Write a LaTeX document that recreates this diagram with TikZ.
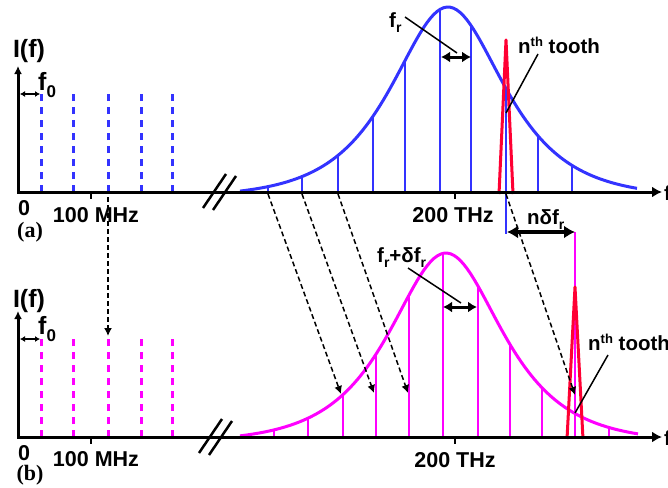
\documentclass[tikz,border=0pt]{standalone}
\usepackage{fontspec}
\setmainfont{Liberation Sans}
\newfontfamily\serifbf{Liberation Serif}
\usetikzlibrary{arrows.meta}
\definecolor{cblue}{RGB}{51,51,255}
\definecolor{cmag}{RGB}{255,0,255}
\definecolor{cred}{RGB}{255,0,51}
\newcommand{\dn}[1]{\raisebox{-5pt}{\fontsize{14}{14}\selectfont #1}}
\newcommand{\up}[1]{\raisebox{7pt}{\fontsize{13}{13}\selectfont #1}}
\newcommand{\dnbig}[1]{\raisebox{-7pt}{\fontsize{17}{17}\selectfont #1}}
\tikzset{
  axisline/.style={line width=3pt, line join=miter, {Latex[length=8pt,width=8pt]}-{Latex[length=10pt,width=11pt]}},
  breakmark/.style={line width=2.5pt},
  tickmark/.style={line width=2pt},
  lbl/.style={font=\fontsize{20.5}{20.5}\selectfont\bfseries, inner sep=0pt},
  axlbl/.style={font=\fontsize{21.5}{21.5}\selectfont\bfseries, inner sep=0pt},
  biglbl/.style={font=\fontsize{25}{25}\selectfont\bfseries, inner sep=0pt},
  panellbl/.style={font=\fontsize{22}{22}\selectfont\serifbf\bfseries, inner sep=0pt},
  combline/.style={line width=3pt, dash pattern=on 7pt off 6pt},
  tooth/.style={line width=2.5pt},
  envelope/.style={line width=3pt},
  spike/.style={cred, line width=3pt, line join=round},
  transfer/.style={line width=1.5pt, dash pattern=on 5pt off 3pt, -{Latex[length=8pt,width=8pt]}},
  leader/.style={line width=1.5pt},
  smalldbl/.style={line width=1.5pt, {Latex[length=5pt,width=6pt]}-{Latex[length=5pt,width=6pt]}},
  spacing/.style={line width=3pt, {Latex[length=9pt,width=11pt]}-{Latex[length=9pt,width=11pt]}},
  bigdbl/.style={line width=3.5pt, {Latex[length=11pt,width=13pt]}-{Latex[length=11pt,width=13pt]}}
}
\begin{document}
\begin{tikzpicture}[x=1pt,y=-1pt,
  declare function={sechf(\t)=2/(exp(\t)+exp(-\t));
    curvA(\x)=192-(190*sechf((\x-448)/50)-5);
    curvB(\x)=437-(189*sechf((\x-446)/50)-5);}]
\useasboundingbox (0,0) rectangle (668,487);

% ---------------- panel (a) ----------------
\foreach \xx in {41,73,108,141,172}
  \draw[combline, cblue] (\xx,192) -- (\xx,93);
\draw[envelope, cblue] plot[domain=240:637, samples=120] (\x, {curvA(\x)});
\foreach \xx in {268,302,338,373,405,440,471,538,572}
  \draw[tooth, cblue] (\xx,192) -- (\xx,{curvA(\xx)});
\draw[tooth, cblue] (506,{curvA(506)}) -- (506,234);
\draw[spike] (499,194) -- (506,40) -- (513,194);

\draw[axisline] (18,66) -- (18,192) -- (662,192);
\draw[breakmark] (203,208) -- (226,174);
\draw[breakmark] (213,210) -- (236,176);
\draw[tickmark] (91,192) -- (91,199);
\draw[tickmark] (455,192) -- (455,199);

\node[biglbl, anchor=base] (Ia) at (29,57) {I(f)};
\node[axlbl, anchor=base] (zeroa) at (24,215) {0};
\node[axlbl, anchor=base] (mhza) at (96,222) {100 MHz};
\node[axlbl, anchor=base] (thza) at (453,222) {200 THz};
\node[panellbl, anchor=base] (pa) at (30,237) {(a)};
\node[lbl, anchor=base west] (fa) at (664,200) {f};
\node[biglbl, anchor=base west] (f0a) at (38,90) {f\dnbig{0}};
\draw[smalldbl] (20,94) -- (40,94);
\node[lbl, anchor=base west] (fr) at (389,28) {f\dn{r}};
\coordinate (frl1) at (405,17);
\coordinate (frl2) at (457,53);
\draw[leader] (frl1) -- (frl2);
\draw[spacing] (441,57) -- (471,57);
\node[lbl, anchor=base west] (ntha) at (518,53) {n\up{th} tooth};
\coordinate (ntl1) at (538,54);
\coordinate (ntl2) at (506,113);
\draw[leader] (ntl1) -- (ntl2);

% ---------------- shift ----------------
\node[lbl, anchor=base west] (ndf) at (527,224) {nδf\dn{r}};
\coordinate (nd1) at (507,232);
\coordinate (nd2) at (575,232);

% ---------------- panel (b) ----------------
\foreach \xx in {41,73,108,141,172}
  \draw[combline, cmag] (\xx,437) -- (\xx,338);
\draw[envelope, cmag] plot[domain=240:638, samples=120] (\x, {curvB(\x)});
\foreach \xx in {274,308,343,376,409,443,478,510,542,609}
  \draw[tooth, cmag] (\xx,437) -- (\xx,{curvB(\xx)});
\draw[tooth, cmag] (575,437) -- (575,232);
\draw[spike] (567,439) -- (575,287) -- (583,439);
\draw[bigdbl] (nd1) -- (nd2);

\draw[axisline] (18,311) -- (18,437) -- (662,437);
\draw[breakmark] (199,453) -- (222,419);
\draw[breakmark] (209,455) -- (232,421);
\draw[tickmark] (91,437) -- (91,444);
\draw[tickmark] (455,437) -- (455,444);

\node[biglbl, anchor=base] (Ib) at (29,307) {I(f)};
\node[axlbl, anchor=base] (zerob) at (24,460) {0};
\node[axlbl, anchor=base] (mhzb) at (96,466) {100 MHz};
\node[axlbl, anchor=base] (thzb) at (455,467) {200 THz};
\node[panellbl, anchor=base] (pb) at (30,480) {(b)};
\node[lbl, anchor=base west] (fb) at (664,445) {f};
\node[biglbl, anchor=base west] (f0b) at (38,334) {f\dnbig{0}};
\draw[smalldbl] (20,339) -- (40,339);
\node[lbl, anchor=base west] (frd) at (377,262) {f\dn{r}+δf\dn{r}};
\coordinate (fdl1) at (408,268);
\coordinate (fdl2) at (461,303);
\draw[leader] (fdl1) -- (fdl2);
\draw[spacing] (443,307) -- (477,307);
\node[lbl, anchor=base west] (nthb) at (588,350) {n\up{th} tooth};
\coordinate (nbl1) at (608,355);
\coordinate (nbl2) at (575,413);
\draw[leader] (nbl1) -- (nbl2);

% ---------------- transfer arrows ----------------
\coordinate (sv) at (108,197);
\coordinate (ev) at (108,336);
\draw[transfer] (sv) -- (ev);
\coordinate (s1) at (268,194);
\coordinate (e1) at (341,394);
\coordinate (s2) at (302,194);
\coordinate (e2) at (374,393);
\coordinate (s3) at (338,194);
\coordinate (e3) at (408,393);
\coordinate (s4) at (506,194);
\coordinate (e4) at (575,395);
\draw[transfer] (s1) -- (e1);
\draw[transfer] (s2) -- (e2);
\draw[transfer] (s3) -- (e3);
\draw[transfer] (s4) -- (e4);
\end{tikzpicture}
\end{document}
